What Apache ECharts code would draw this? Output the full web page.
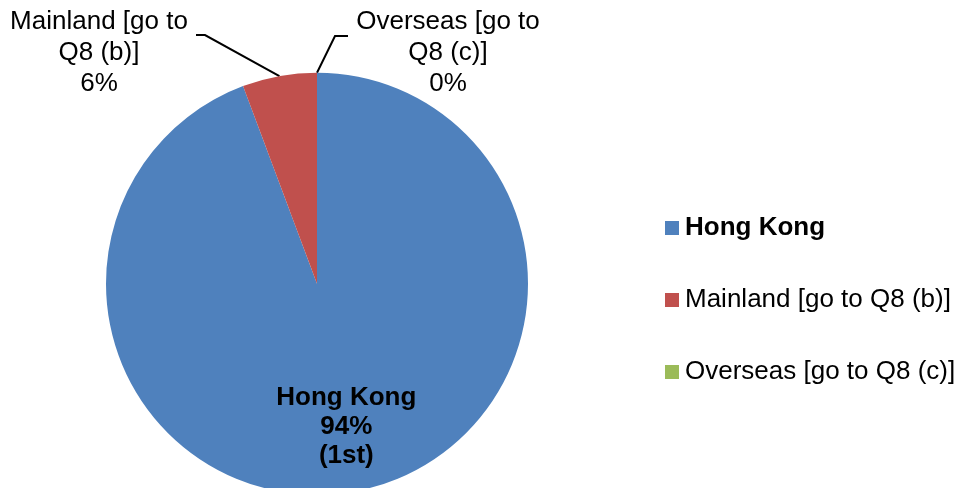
<!DOCTYPE html>
<html>
<head>
<meta charset="utf-8">
<script src="https://cdn.jsdelivr.net/npm/echarts@6/dist/echarts.min.js"></script>
<style>
html,body{margin:0;padding:0;background:#fff;}
#chart{width:963px;height:488px;}
</style>
</head>
<body>
<div id="chart"></div>
<script>
var categories = ['Hong Kong', 'Mainland [go to Q8 (b)]', 'Overseas [go to Q8 (c)]'];
var values = [94.3, 5.7, 0];
var rankNotes = ['(1st)', '', ''];
var colors = ['#4F81BD', '#C0504D', '#9BBB59'];

var FONT = '"Liberation Sans", Arial, sans-serif';
var chart = echarts.init(document.getElementById('chart'), null, {renderer: 'canvas'});

var data = categories.map(function (c, i) {
  var d = {name: c, value: values[i], itemStyle: {color: colors[i]}};
  if (i === 0) {
    d.label = {
      position: 'inside',
      fontWeight: 'bold',
      lineHeight: 29,
      offset: [10, 36]
    };
  }
  return d;
});

chart.setOption({
  animation: false,
  backgroundColor: '#ffffff',
  legend: {
    orient: 'vertical',
    left: 665,
    top: 215,
    padding: 0,
    itemWidth: 14,
    itemHeight: 14,
    itemGap: 46,
    icon: 'rect',
    textStyle: {fontFamily: FONT, fontSize: 26, color: '#000', lineHeight: 26, padding: [0, 0, 0, 1]},
    data: categories.map(function (c, i) {
      return i === 0 ? {name: c, textStyle: {fontWeight: 'bold'}} : {name: c};
    })
  },
  series: [{
    type: 'pie',
    center: [317, 283.7],
    radius: 211,
    startAngle: 90,
    clockwise: true,
    avoidLabelOverlap: false,
    stillShowZeroSum: true,
    emphasis: {disabled: true},
    label: {
      show: true,
      position: 'outside',
      fontFamily: FONT,
      fontSize: 26,
      lineHeight: 31,
      color: '#000',
      align: 'center',
      formatter: function (p) {
        var pct = Math.round(p.percent) + '%';
        if (p.dataIndex === 0) return p.name + '\n' + pct + '\n' + rankNotes[0];
        return p.name.replace(' Q8', '\nQ8') + '\n' + pct;
      }
    },
    labelLine: {
      show: true,
      length: 20,
      length2: 10,
      lineStyle: {color: '#000', width: 2}
    },
    labelLayout: function (p) {
      if (p.dataIndex === 1) {
        var s = p.labelLinePoints ? p.labelLinePoints[0] : [279, 76];
        return {x: 99, y: 52.5, align: 'center', verticalAlign: 'middle',
          labelLinePoints: [s, [205, 35], [196, 35]]};
      }
      if (p.dataIndex === 2) {
        var s2 = p.labelLinePoints ? p.labelLinePoints[0] : [317, 73];
        return {x: 448, y: 52.5, align: 'center', verticalAlign: 'middle',
          labelLinePoints: [s2, [335, 36], [348, 36]]};
      }
      return {};
    },
    data: data
  }]
});
</script>
</body>
</html>
